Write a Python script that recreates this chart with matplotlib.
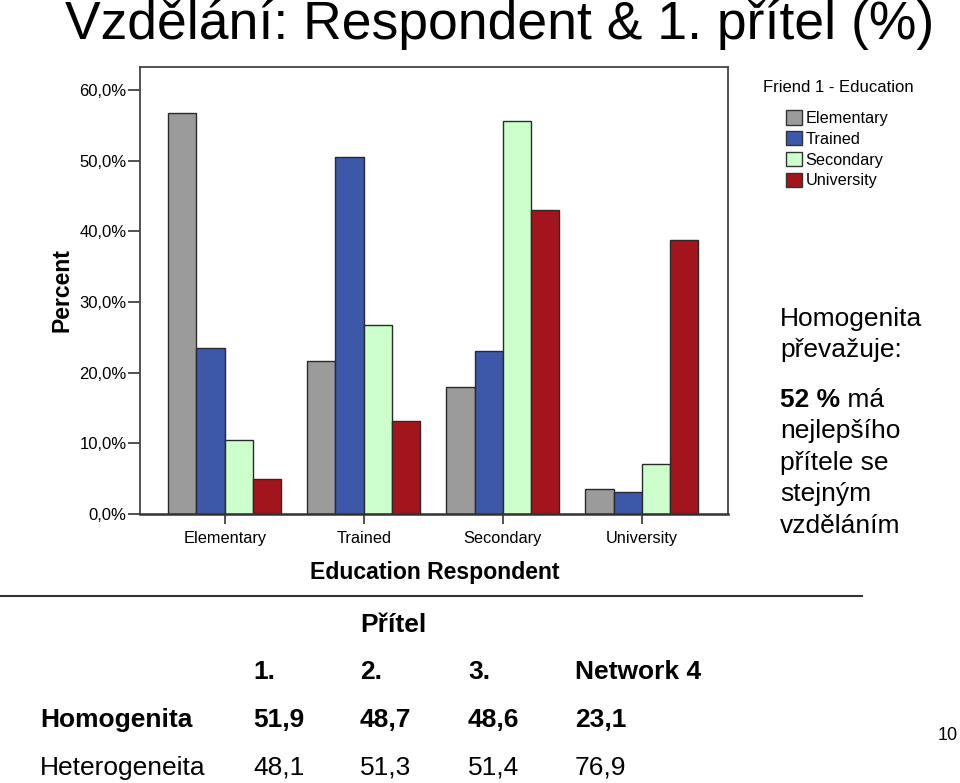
import numpy as np
import matplotlib
matplotlib.use('Agg')
from matplotlib import pyplot as plt
from matplotlib.patches import Patch

plt.rcParams['font.family'] = ['Liberation Sans', 'DejaVu Sans']

# bar chart data (percent), respondent education on x, friend's education as series
categories = ['Elementary', 'Trained', 'Secondary', 'University']
friend_elementary = [56.7, 21.6, 18.0, 3.6]
friend_trained = [23.5, 50.5, 23.1, 3.1]
friend_secondary = [10.5, 26.8, 55.6, 7.1]
friend_university = [5.0, 13.2, 43.0, 38.8]
series_names = ['Elementary', 'Trained', 'Secondary', 'University']
series_colors = ['#9b9b9b', '#3d58a8', '#ccffcc', '#a3151d']
y_ticks = [0, 10, 20, 30, 40, 50, 60]

# table below the chart
table_cols = ['1.', '2.', '3.', 'Network 4']
homogenita = ['51,9', '48,7', '48,6', '23,1']
heterogeneita = ['48,1', '51,3', '51,4', '76,9']

W, H = 960, 783
fig = plt.figure(figsize=(W / 100, H / 100), dpi=100)


def fx(px):
	return px / W


def fy(py):
	return 1 - py / H


fig.text(fx(65), fy(39), 'Vzdělání: Respondent & 1. přítel (%)', fontsize=38.5, va='baseline', ha='left')

ax = fig.add_axes([fx(140), fy(514), fx(728) - fx(140), fy(67) - fy(514)])

series = [friend_elementary, friend_trained, friend_secondary, friend_university]
x = np.arange(len(categories))
bw = 0.2036
for i, vals in enumerate(series):
	ax.bar(x + (i - 1.5) * bw, vals, width=bw, color=series_colors[i],
		edgecolor='#2a2a2a', linewidth=1.0, zorder=2)

ax.set_xlim(-0.61, 3.62)
ax.set_ylim(0, 63.25)
ax.set_xticks(x)
ax.set_xticklabels(categories, fontsize=11.8)
ax.set_yticks(y_ticks)
ax.set_yticklabels([f'{v:.1f}'.replace('.', ',') + '%' for v in y_ticks], fontsize=12)
ax.tick_params(axis='y', length=8.6, width=1.2, pad=1, color='#333333')
ax.tick_params(axis='x', length=7.2, width=1.2, pad=5, color='#333333')
for s in ax.spines.values():
	s.set_linewidth(1.3)
	s.set_color('#444444')
ax.spines['bottom'].set_linewidth(1.8)
ax.spines['bottom'].set_color('#333333')

ax.set_ylabel('Percent', fontsize=16.6, fontweight='bold')
ax.yaxis.label.set_va('center')
ax.yaxis.set_label_coords(-0.133, 0.5)
ax.set_xlabel('Education Respondent', fontsize=16.6, fontweight='bold')
ax.xaxis.label.set_va('center')
ax.xaxis.set_label_coords(0.502, -0.13)

# legend
fig.text(fx(763), fy(88), 'Friend 1 - Education', fontsize=12, va='center', ha='left')
handles = [Patch(facecolor=c, edgecolor='#333333', linewidth=1.0) for c in series_colors]
fig.legend(handles, series_names, loc='upper left', bbox_to_anchor=(fx(786), fy(110)),
	frameon=False, fontsize=11.7, handlelength=1.0, handleheight=1.0,
	handletextpad=0.2, labelspacing=0.31, borderpad=0, borderaxespad=0)

# side note
side_lines = [('Homogenita', 326), ('převažuje:', 357), (None, 407),
	('nejlepšího', 438), ('přítele se', 470), ('stejným', 501), ('vzděláním', 533)]
for txt, py in side_lines:
	if txt is None:
		t = fig.text(fx(780), fy(py), '52 %', fontsize=19, fontweight='bold', va='baseline')
		ax.annotate(' má', xy=(1, 0), xycoords=t, va='bottom', ha='left', fontsize=19,
			annotation_clip=False)
	else:
		fig.text(fx(780), fy(py), txt, fontsize=19, va='baseline')

# separator line
fig.add_artist(plt.Line2D([0, fx(862)], [fy(596), fy(596)], color='#333333', linewidth=1.5))

# table
col_x = [253, 360, 468, 575]
fig.text(fx(360), fy(632), 'Přítel', fontsize=19, fontweight='bold', va='baseline')
for cx, lab in zip(col_x, table_cols):
	fig.text(fx(cx), fy(679), lab, fontsize=19, fontweight='bold', va='baseline')
fig.text(fx(40), fy(727), 'Homogenita', fontsize=19, fontweight='bold', va='baseline')
fig.text(fx(40), fy(775), 'Heterogeneita', fontsize=19, va='baseline')
for cx, v1, v2 in zip(col_x, homogenita, heterogeneita):
	fig.text(fx(cx), fy(727), v1, fontsize=19, fontweight='bold', va='baseline')
	fig.text(fx(cx), fy(775), v2, fontsize=19, va='baseline')

fig.text(fx(958), fy(735), '10', fontsize=13, ha='right', va='center')

fig.savefig('out.png', dpi=100)
